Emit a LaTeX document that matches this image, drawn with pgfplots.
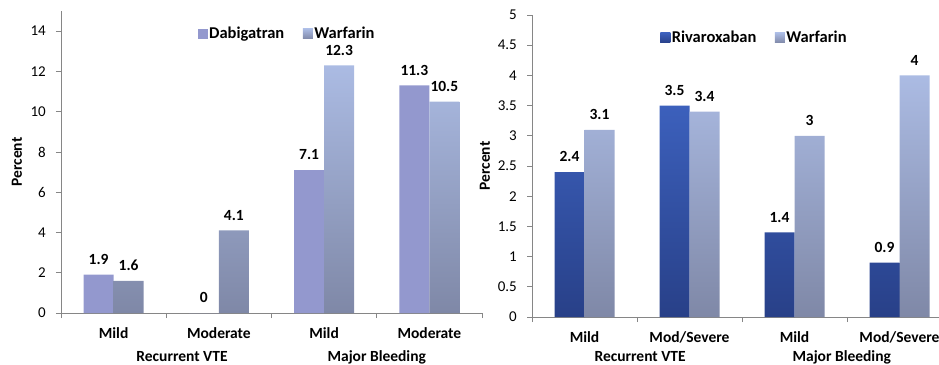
\documentclass[border=0pt]{standalone}
\usepackage{pgfplots}
\pgfplotsset{compat=1.18}
\usepackage{fontspec}
\setmainfont{Carlito}

\definecolor{dabi}{RGB}{147,152,206}
\definecolor{warfTop}{RGB}{171,187,227}
\definecolor{warfBot}{RGB}{127,136,167}
\definecolor{rivaTop}{RGB}{60,96,188}
\definecolor{rivaBot}{RGB}{40,64,136}
\definecolor{axisgray}{RGB}{134,134,134}

\newcommand{\lblfont}{\fontsize{15.5}{18}\selectfont\bfseries}
\newcommand{\valfont}{\fontsize{15.5}{18}\selectfont\bfseries}
\newcommand{\legfont}{\fontsize{16.5}{19}\selectfont\bfseries}
\newcommand{\tickfont}{\fontsize{15}{18}\selectfont}

\pgfplotsset{
  trial/.style={
    scale only axis,
    height=302pt,
    ymin=0,
    xmin=-0.5, xmax=3.5,
    clip=false,
    ybar=0pt, bar width=30pt,
    axis x line*=bottom, axis y line*=left,
    axis line style={axisgray, line width=0.8pt},
    xtick={0,1,2,3},
    minor xtick={-0.5,0.5,1.5,2.5,3.5},
    major x tick style={draw=none},
    minor x tick style={axisgray, line width=0.8pt},
    y tick style={axisgray, line width=0.8pt},
    tick align=outside,
    major tick length=5pt, minor tick length=5pt,
    xticklabel style={font=\lblfont, anchor=base, inner sep=0pt, yshift=-20pt},
    yticklabel style={font=\tickfont, anchor=east, inner sep=0pt, xshift=-10pt},
    /pgf/number format/assume math mode=true,
    scaled y ticks=false,
    ylabel={Percent},
    ylabel style={font=\lblfont, at={(axis description cs:0,0.5)}, anchor=center},
    nodes near coords,
    every node near coord/.append style={font=\valfont, anchor=south, inner sep=0pt, yshift=10pt, text=black},
    legend columns=2,
    legend style={draw=none, fill=none, inner sep=0pt, font=\legfont,
      nodes={inner sep=1.5pt},
      /tikz/column 2/.style={column sep=17pt}},
  },
}

\begin{document}
\begin{tikzpicture}
\useasboundingbox (0,0) rectangle (939pt,364pt);
\clip (0,0) rectangle (939pt,364pt);

% Dabigatran versus warfarin
\begin{axis}[trial,
    at={(61pt,51pt)}, anchor=south west,
    width=421pt, ymax=15,
    ytick={0,2,4,6,8,10,12,14},
    xticklabels={Mild,Moderate,Mild,Moderate},
    ylabel style={yshift=44pt},
    legend style={at={(axis description cs:0.324,0.924)}, anchor=west},
  ]
  \addplot[fill=dabi, draw=none,
    legend image code/.code={\fill[dabi] (0pt,-5pt) rectangle (10pt,5pt);}]
    coordinates {(0,1.9) (1,0) (2,7.1) (3,11.3)};
  \addplot[top color=warfTop, bottom color=warfBot, draw=none,
    legend image code/.code={\shade[top color=warfTop, bottom color=warfBot] (0pt,-5pt) rectangle (10pt,5pt);}]
    coordinates {(0,1.6) (1,4.1) (2,12.3) (3,10.5)};
  \legend{Dabigatran,Warfarin}
  \node[font=\lblfont, anchor=base, yshift=-48pt] at (axis cs:0.65,0) {Recurrent VTE};
  \node[font=\lblfont, anchor=base, yshift=-48pt] at (axis cs:2.5,0) {Major Bleeding};
\end{axis}

% Rivaroxaban versus warfarin
\begin{axis}[trial,
    at={(532pt,47pt)}, anchor=south west,
    width=420pt, ymax=5,
    ytick={0,0.5,1,1.5,2,2.5,3,3.5,4,4.5,5},
    xticklabels={Mild,Mod/Severe,Mild,Mod/Severe},
    ylabel style={yshift=47pt},
    legend style={at={(axis description cs:0.305,0.924)}, anchor=west},
  ]
  \addplot[top color=rivaTop, bottom color=rivaBot, draw=none,
    legend image code/.code={\fill[rivaTop!85!rivaBot] (0pt,-5pt) rectangle (10pt,5pt);}]
    coordinates {(0,2.4) (1,3.5) (2,1.4) (3,0.9)};
  \addplot[top color=warfTop, bottom color=warfBot, draw=none,
    legend image code/.code={\shade[top color=warfTop, bottom color=warfBot] (0pt,-5pt) rectangle (10pt,5pt);}]
    coordinates {(0,3.1) (1,3.4) (2,3.0) (3,4.0)};
  \legend{Rivaroxaban,Warfarin}
  \node[font=\lblfont, anchor=base, yshift=-44pt] at (axis cs:0.53,0) {Recurrent VTE};
  \node[font=\lblfont, anchor=base, yshift=-44pt] at (axis cs:2.45,0) {Major Bleeding};
\end{axis}
\end{tikzpicture}
\end{document}
